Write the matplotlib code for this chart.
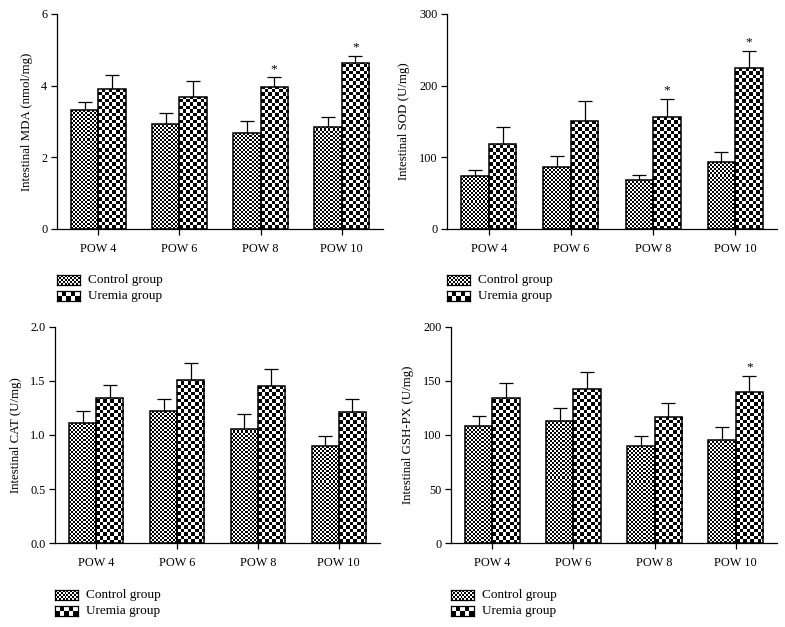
import numpy as np
import matplotlib
matplotlib.use("Agg")
import matplotlib.pyplot as plt

plt.rcParams['font.family'] = ['Liberation Serif', 'DejaVu Serif']

categories = ["POW 4", "POW 6", "POW 8", "POW 10"]
groups = ["Control group", "Uremia group"]

mda_control = [3.33, 2.92, 2.67, 2.86]
mda_control_err = [0.22, 0.33, 0.34, 0.27]
mda_uremia = [3.91, 3.69, 3.95, 4.64]
mda_uremia_err = [0.40, 0.44, 0.28, 0.19]
mda_star = [False, False, True, True]

sod_control = [74, 86, 68, 94]
sod_control_err = [8, 16, 7, 13]
sod_uremia = [118, 150, 156, 224]
sod_uremia_err = [24, 28, 25, 25]
sod_star = [False, False, True, True]

cat_control = [1.11, 1.22, 1.06, 0.90]
cat_control_err = [0.11, 0.11, 0.13, 0.09]
cat_uremia = [1.34, 1.51, 1.45, 1.21]
cat_uremia_err = [0.12, 0.16, 0.16, 0.12]
cat_star = [False, False, False, False]

gsh_control = [108, 113, 90, 95]
gsh_control_err = [10, 12, 9, 12]
gsh_uremia = [134, 143, 117, 140]
gsh_uremia_err = [14, 15, 13, 15]
gsh_star = [False, False, False, True]

W, H = 785, 627
fig = plt.figure(figsize=(W / 100, H / 100), dpi=100)

CELL_CTRL = 2.0
CELL_UREM = 3.5


def checker(nx, ny):
    i, j = np.meshgrid(np.arange(nx), np.arange(ny))
    return ((i + j) % 2).astype(float)


def fill_bars(ax, bars, cell):
    inv = ax.transData.inverted()
    for rect in bars:
        x0, y0 = rect.get_x(), rect.get_y()
        w, h = rect.get_width(), rect.get_height()
        p0 = ax.transData.transform((x0, y0))
        p1 = ax.transData.transform((x0 + w, y0 + h))
        nx = int(np.ceil((p1[0] - p0[0]) / cell)) + 1
        ny = int(np.ceil((p1[1] - p0[1]) / cell)) + 1
        q = inv.transform((p0[0] + nx * cell, p0[1] + ny * cell))
        im = ax.imshow(checker(nx, ny), cmap='gray', origin='lower',
                       extent=[x0, q[0], y0, q[1]], interpolation='nearest',
                       aspect='auto', zorder=2)
        im.set_clip_path(rect)


def panel(box, ylabel, ymax, yticks, yfmt, ctrl, ctrl_err, urem, urem_err, star, leg_dy):
    l, t, r, b = box
    ax = fig.add_axes([l / W, 1 - b / H, (r - l) / W, (b - t) / H])
    x = np.arange(len(categories))
    bw = 0.335
    ax.set_xlim(-0.51, 3.51)
    ax.set_ylim(0, ymax)
    b1 = ax.bar(x - bw / 2, ctrl, bw, facecolor='none', edgecolor='black', linewidth=1.1, zorder=3)
    b2 = ax.bar(x + bw / 2, urem, bw, facecolor='none', edgecolor='black', linewidth=1.1, zorder=3)
    fill_bars(ax, b1, CELL_CTRL)
    fill_bars(ax, b2, CELL_UREM)
    ax.set_xlim(-0.51, 3.51)
    ax.set_ylim(0, ymax)
    z = np.zeros(len(x))
    ax.errorbar(x - bw / 2, ctrl, yerr=[z, ctrl_err], fmt='none', ecolor='black',
                elinewidth=0.9, capsize=5.2, capthick=0.9, zorder=1)
    ax.errorbar(x + bw / 2, urem, yerr=[z, urem_err], fmt='none', ecolor='black',
                elinewidth=0.9, capsize=5.2, capthick=0.9, zorder=1)
    for i in range(len(x)):
        if star[i]:
            ax.text(x[i] + bw / 2, urem[i] + urem_err[i] + ymax * 0.012, "*",
                    ha='center', va='bottom', fontsize=9.5)
    ax.set_xticks(x)
    ax.set_xticklabels(categories, fontsize=8.8)
    ax.set_yticks(yticks)
    ax.set_yticklabels([yfmt.format(v) for v in yticks], fontsize=8.8)
    ax.set_ylabel(ylabel, fontsize=9.3, labelpad=6)
    for s in ['top', 'right']:
        ax.spines[s].set_visible(False)
    for s in ['left', 'bottom']:
        ax.spines[s].set_linewidth(0.9)
    ax.tick_params(axis='both', direction='out', length=4, width=0.9, pad=3)
    ax.tick_params(axis='x', pad=6)

    # legend swatches below the axis
    for k, (lab, cell) in enumerate(zip(groups, [CELL_CTRL, CELL_UREM + 1])):
        cy = b + leg_dy + k * 16
        sw, sh = 23, 10
        lax = fig.add_axes([l / W, 1 - (cy + sh / 2) / H, sw / W, sh / H])
        lax.imshow(checker(int(round(sw / cell)), int(round(sh / cell))), cmap='gray',
                   origin='lower', interpolation='nearest', aspect='auto')
        lax.set_xticks([])
        lax.set_yticks([])
        for s in lax.spines.values():
            s.set_linewidth(0.9)
        fig.text((l + 31) / W, 1 - cy / H, lab, fontsize=9.5, va='center', ha='left')
    return ax


panel((57, 14, 383, 229), "Intestinal MDA (nmol/mg)", 6, [0, 2, 4, 6], "{:g}",
      mda_control, mda_control_err, mda_uremia, mda_uremia_err, mda_star, 51)
panel((447, 14, 777, 229), "Intestinal SOD (U/mg)", 300, [0, 100, 200, 300], "{:g}",
      sod_control, sod_control_err, sod_uremia, sod_uremia_err, sod_star, 51)
panel((55, 327, 380, 543), "Intestinal CAT (U/mg)", 2.0, [0, 0.5, 1.0, 1.5, 2.0], "{:.1f}",
      cat_control, cat_control_err, cat_uremia, cat_uremia_err, cat_star, 52)
panel((451, 327, 777, 543), "Intestinal GSH-PX (U/mg)", 200, [0, 50, 100, 150, 200], "{:g}",
      gsh_control, gsh_control_err, gsh_uremia, gsh_uremia_err, gsh_star, 52)

fig.savefig("out.png", dpi=100)
